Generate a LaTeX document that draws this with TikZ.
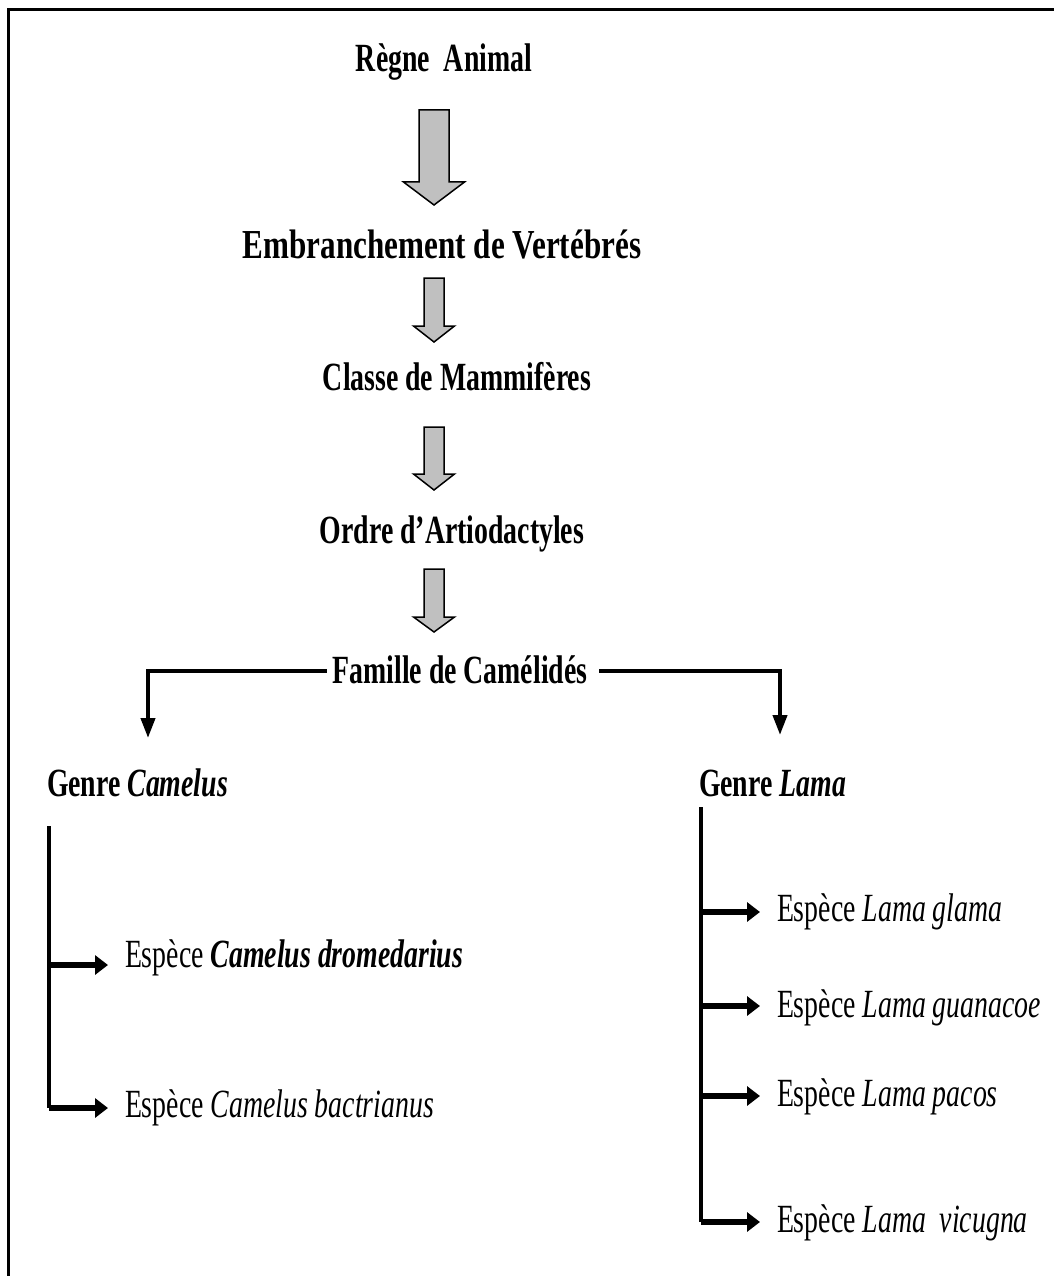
\documentclass[tikz,border=0pt]{standalone}
\usepackage{fontspec}
\usepackage{graphicx}
\setmainfont{Liberation Serif}[FakeStretch=0.695]
\usetikzlibrary{arrows.meta}
\definecolor{arrowgray}{RGB}{192,192,192}
\newcommand\blockarrow[6]{%
  \filldraw[fill=arrowgray,draw=black,line width=1.5pt,line join=miter]
   ({#1-#5},#2) -- ({#1+#5},#2) -- ({#1+#5},#3) -- ({#1+#6},#3) -- (#1,#4)
   -- ({#1-#6},#3) -- ({#1-#5},#3) -- cycle;}
\begin{document}
\begin{tikzpicture}[x=1pt,y=-1pt,
  every node/.style={inner sep=0pt,outer sep=0pt,font=\fontsize{40}{42}\selectfont},
  titletext/.style={anchor=base,font=\fontsize{40}{42}\selectfont\bfseries},
  genretext/.style={anchor=base west,font=\fontsize{40}{42}\selectfont\bfseries},
  spectext/.style={anchor=base west},
  branch/.style={line width=4pt,-{Triangle[length=20pt,width=14pt]}},
  trunk/.style={line width=4pt},
  sparrow/.style={line width=5.5pt,-{Triangle[length=13pt,width=19pt]},shorten >=17pt}]
\useasboundingbox (0,0) rectangle (1054,1276);
\draw[line width=3pt] (8,1276) -- (8,10) -- (1054,10);

% titles
\node[titletext] (regne) at (444,72) {Règne~~Animal};
\node[titletext] (embr) at (442,258) {\scalebox{1.12}[1.03]{Embranchement de Vertébrés}};
\node[titletext] (classe) at (457,390) {Classe de Mammifères};
\node[titletext] (ordre) at (452,543) {Ordre d’Artiodactyles};
\node[titletext] (fam) at (460,683) {Famille de Camélidés};

% gray block arrows
\blockarrow{434}{110}{182}{205}{15}{30.5}
\blockarrow{434}{278}{326}{342}{10}{20.5}
\blockarrow{434}{427}{474}{490}{10}{20.5}
\blockarrow{434}{569}{617}{632}{10}{20.5}

% genres
\node[genretext] (gcam) at (47,796) {Genre \textit{Camelus}};
\node[genretext] (glama) at (699,796) {Genre \textit{Lama}};

\coordinate (famL) at (148,671);
\coordinate (famLend) at (148,738);
\coordinate (famR) at (780,671);
\coordinate (famRend) at (780,735);
\draw[branch] ([xshift=-6pt]fam.west |- famL) -- (famL) -- (famLend);
\draw[branch] ([xshift=12pt]fam.east |- famR) -- (famR) -- (famRend);

% species Camelus
\node[spectext] (s1) at (125,967) {Espèce \textbf{\textit{Camelus dromedarius}}};
\node[spectext] (s2) at (125,1117) {Espèce \textit{Camelus bactrianus}};
\coordinate (lt) at (49,826);
\coordinate (l1) at (49,965);
\coordinate (l2) at (49,1108);
\draw[trunk] (lt) -- (l2);
\draw[sparrow] (l1) -- (l1 -| s1.west);
\draw[sparrow] (l2) -- (l2 -| s2.west);

% species Lama
\node[spectext] (r1) at (777,921) {Espèce \textit{Lama glama}};
\node[spectext] (r2) at (777,1017) {Espèce \textit{Lama guanacoe}};
\node[spectext] (r3) at (777,1106) {Espèce \textit{Lama pacos}};
\node[spectext] (r4) at (777,1232) {Espèce \textit{Lama~~vicugna}};
\coordinate (rt) at (701,807);
\coordinate (q1) at (701,912);
\coordinate (q2) at (701,1006);
\coordinate (q3) at (701,1096);
\coordinate (q4) at (701,1222);
\draw[trunk] (rt) -- (q4);
\draw[sparrow] (q1) -- (q1 -| r1.west);
\draw[sparrow] (q2) -- (q2 -| r2.west);
\draw[sparrow] (q3) -- (q3 -| r3.west);
\draw[sparrow] (q4) -- (q4 -| r4.west);
\end{tikzpicture}
\end{document}
